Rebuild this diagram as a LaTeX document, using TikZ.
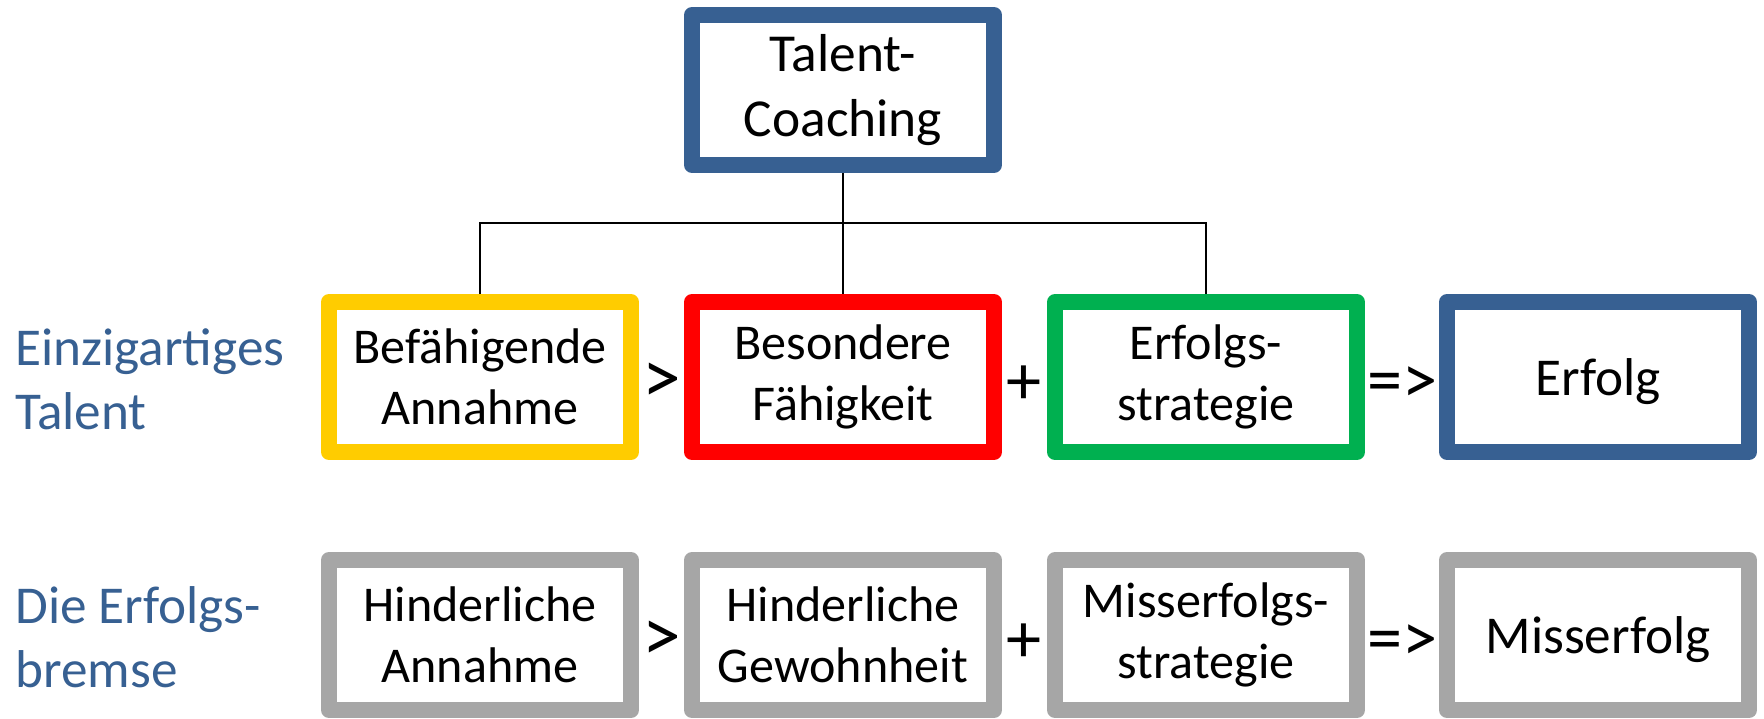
\documentclass[tikz,border=0pt]{standalone}
\usepackage{fontspec}
\setmainfont{Carlito}
\definecolor{coachblue}{HTML}{376092}
\definecolor{annyellow}{HTML}{FFCC00}
\definecolor{faered}{HTML}{FF0000}
\definecolor{strgreen}{HTML}{00B050}
\definecolor{hindgray}{HTML}{A6A6A6}
\begin{document}
\begin{tikzpicture}[x=0.02cm, y=-0.02cm,
  box/.style={draw=#1, line width=0.32cm, line join=round, fill=white,
    minimum width=6.04cm, minimum height=3cm, align=center, inner sep=0pt,
    font=\fontsize{28.5}{35}\selectfont},
  single/.style={font=\fontsize{30.3}{34}\selectfont, text height=28pt, text depth=6.5pt},
  op/.style={inner sep=0pt, font=\fontsize{40}{44}\selectfont},
  side/.style={anchor=west, align=left, inner sep=0pt, text=coachblue,
    font=\fontsize{30.3}{36.5}\selectfont},
  conn/.style={line width=1.1pt}]
\useasboundingbox (0,0) rectangle (1764,718);

% Coaching box on top
\node[box=coachblue, font=\fontsize{30.4}{36.5}\selectfont] (tc) at (843,90) {Talent-\\Coaching};

% Row 1: talent
\node[side] (lbltal) at (15,379) {Einzigartiges\\Talent};
\node[box=annyellow] (ann) at (480,377) {Befähigende\\Annahme};
\node[box=faered] (fae) at (843,377) {Besondere\\Fähigkeit};
\node[box=strgreen] (str) at (1206,377) {Erfolgs-\\strategie};
\node[box=coachblue, single] (erf) at (1598,377) {Erfolg};
\node[op, font=\fontsize{44}{48}\selectfont] (gt1) at (662,383) {>};
\node[op] (pl1) at (1024,385) {+};
\node[op] (res1) at (1402,385) {=>};

% Row 2: brake
\node[side] (lblbr) at (15,637) {Die Erfolgs-\\bremse};
\node[box=hindgray] (hann) at (480,635) {Hinderliche\\Annahme};
\node[box=hindgray] (hgew) at (843,635) {Hinderliche\\Gewohnheit};
\node[box=hindgray] (mstr) at (1206,635) {Misserfolgs-\\strategie};
\node[box=hindgray, single] (mis) at (1598,635) {Misserfolg};
\node[op, font=\fontsize{44}{48}\selectfont] (gt2) at (662,641) {>};
\node[op] (pl2) at (1024,643) {+};
\node[op] (res2) at (1402,643) {=>};

% Connectors
\coordinate (bar) at (843,223);
\draw[conn] (tc.south) -- (fae.north);
\draw[conn] (ann.north) |- (bar) -| (str.north);

\end{tikzpicture}
\end{document}
